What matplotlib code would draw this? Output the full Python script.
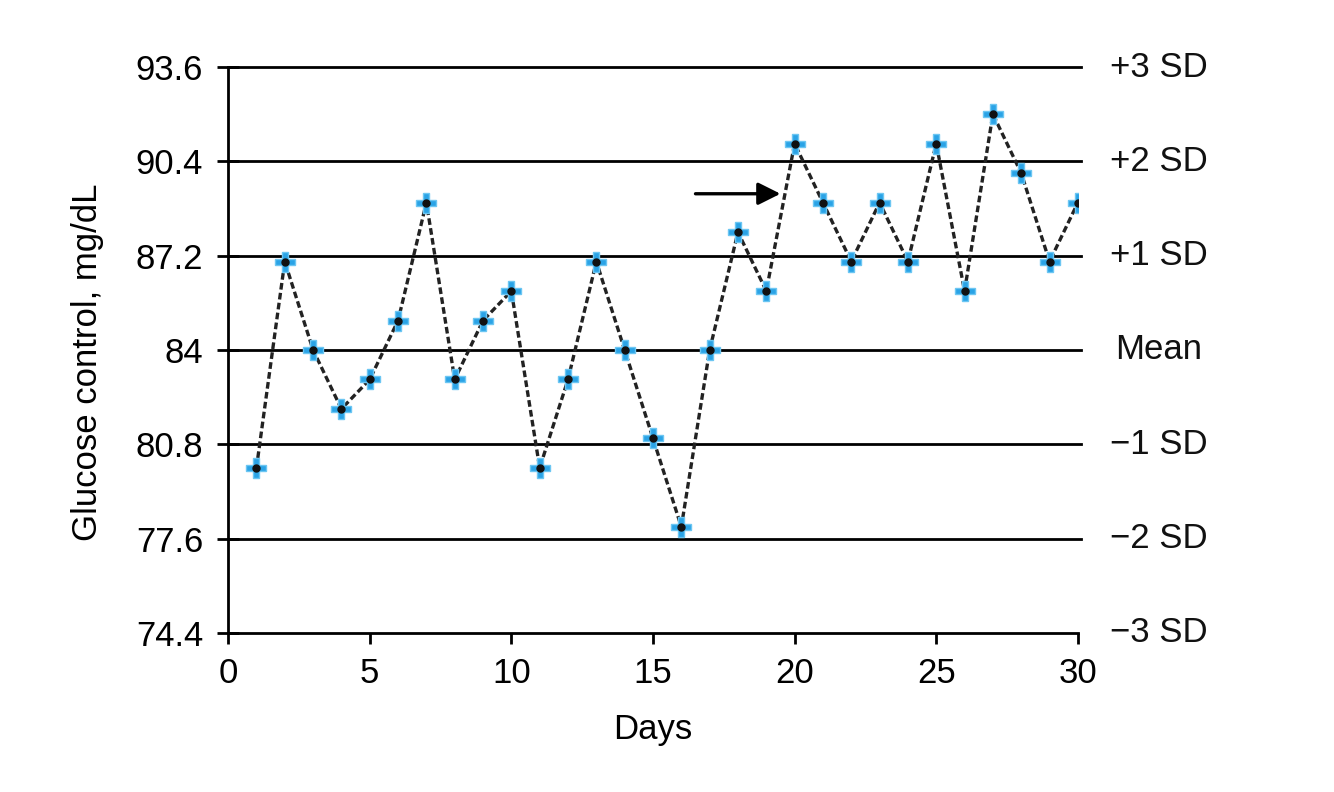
import numpy as np
import matplotlib.pyplot as plt

plt.rcParams['font.family'] = ['Liberation Sans', 'DejaVu Sans']

# ---------------------------
# data
# ---------------------------
days = list(range(1, 31))
glucose = [80.0, 87.0, 84.0, 82.0, 83.0, 85.0, 89.0, 83.0, 85.0, 86.0,
           80.0, 83.0, 87.0, 84.0, 81.0, 78.0, 84.0, 88.0, 86.0, 91.0,
           89.0, 87.0, 89.0, 87.0, 91.0, 86.0, 92.0, 90.0, 87.0, 89.0]

sd_levels = [93.6, 90.4, 87.2, 84.0, 80.8, 77.6, 74.4]
sd_labels = ['+3 SD', '+2 SD', '+1 SD', 'Mean', '\u22121 SD', '\u22122 SD', '\u22123 SD']
ytick_labels = ['93.6', '90.4', '87.2', '84', '80.8', '77.6', '74.4']
xticks = [0, 5, 10, 15, 20, 25, 30]

arrow_start = (16.5, 89.3)
arrow_end = (19.5, 89.3)

# ---------------------------
# figure
# ---------------------------
fig = plt.figure(figsize=(13.34, 7.92), dpi=100)
ax = fig.add_axes([0.171, 0.2008, 0.637, 0.7146])
fs = 25

# horizontal SD lines, extended a bit past the plot on the right
for lv in sd_levels[:-1]:
    ax.plot([0, 30.1], [lv, lv], color='black', lw=2.0, clip_on=False, zorder=1)

ax.plot(days, glucose, color='#222222', lw=2.4, ls=(0, (2, 1)), zorder=2)
ax.plot(days, glucose, ls='none', marker='P', ms=15, mfc='#2aa3e6', mec='#6cc6f2',
        mew=1.0, zorder=3)
ax.plot(days, glucose, ls='none', marker='o', ms=5, color='#111111', zorder=4)

ax.annotate('', xy=arrow_end, xytext=arrow_start,
            arrowprops=dict(arrowstyle='-|>', color='black', lw=2.4,
                            mutation_scale=34, shrinkA=0, shrinkB=0))

# right-hand SD labels
for lv, lab in zip(sd_levels, sd_labels):
    ax.text(1.095, lv, lab, transform=ax.get_yaxis_transform(), ha='center',
            va='center', fontsize=fs, color='#111111')

ax.set_xlim(0, 30)
ax.set_ylim(74.4, 93.6)
ax.set_xticks(xticks)
ax.set_yticks(sd_levels)
ax.set_yticklabels(ytick_labels)
ax.tick_params(axis='y', direction='inout', length=16, width=2, labelsize=fs, pad=10)
ax.tick_params(axis='x', direction='out', length=8, width=2, labelsize=fs, pad=9)

for side in ('top', 'right'):
    ax.spines[side].set_visible(False)
for side in ('left', 'bottom'):
    ax.spines[side].set_linewidth(2.0)

ax.set_xlabel('Days', fontsize=fs, labelpad=17)
ax.set_ylabel('Glucose control, mg/dL', fontsize=fs)
ax.yaxis.set_label_coords(-0.146, 0.479)

fig.savefig('out.png', dpi=100)
